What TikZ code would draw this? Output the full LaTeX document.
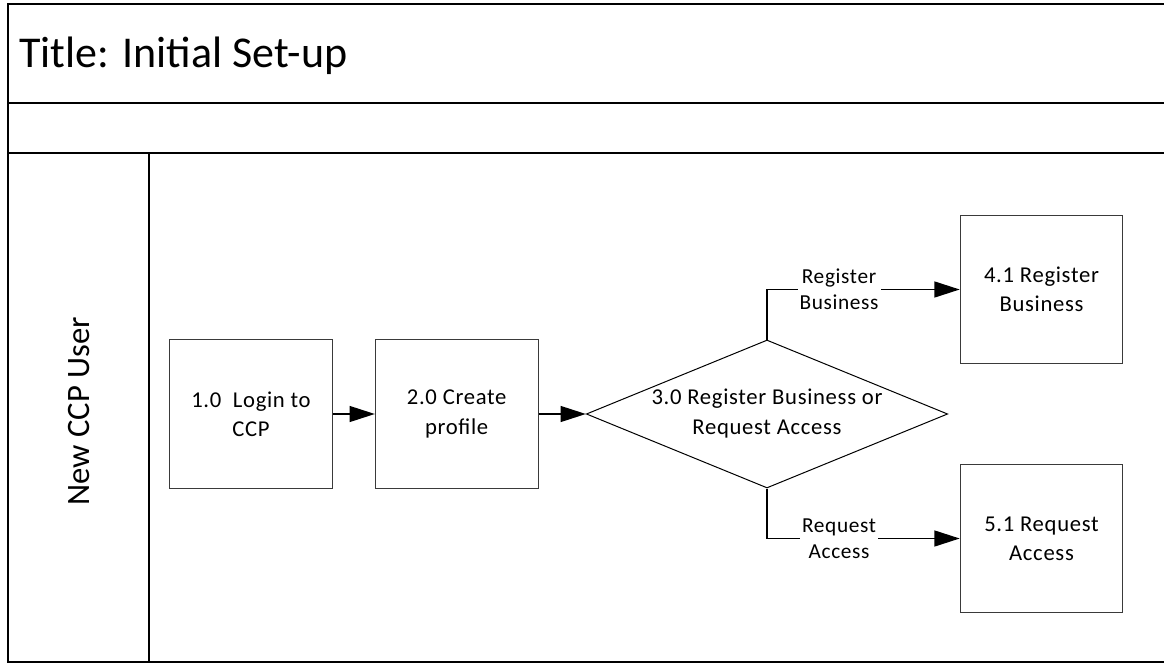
\documentclass[tikz,border=0pt]{standalone}
\usepackage{fontspec}
\setmainfont{Carlito}
\newfontfamily\visiofont[LetterSpace=3]{Carlito}
\definecolor{ccpLinea}{HTML}{000000}
\definecolor{ccpBorde}{HTML}{3A3A3A}
\usepackage{tikz}
\usetikzlibrary{
	arrows.meta,
	positioning,
	shapes.geometric
}
\tikzset{
	proceso/.style={
		draw=ccpBorde,
		line width=0.75pt,
		minimum width=122pt,
		minimum height=111.5pt,
		align=center,
		inner sep=2pt,
		font=\visiofont\fontsize{17}{22}\selectfont
	},
	decision/.style={
		diamond,
		draw=ccpLinea,
		line width=0.75pt,
		aspect=2.44,
		minimum width=271pt,
		minimum height=111pt,
		inner sep=0pt,
		align=center,
		font=\visiofont\fontsize{17}{22.5}\selectfont
	},
	etiqueta/.style={
		fill=white,
		align=center,
		inner sep=1.5pt,
		font=\visiofont\fontsize{16}{19.5}\selectfont
	},
	flecha/.style={
		-{Triangle[length=19pt,width=12pt]},
		line width=1.1pt,
		ccpLinea
	},
	marco/.style={
		line width=1.5pt,
		ccpLinea
	}
}

\begin{document}
\begin{tikzpicture}[x=0.75pt,y=-0.75pt]
		\useasboundingbox (0,0) rectangle (1164,663);
		% carril
		\draw[marco] (1164,4) -- (8,4) -- (8,662) -- (1164,662);
		\draw[marco] (8,103) -- (1164,103);
		\draw[marco] (8,153) -- (1164,153);
		\draw[marco] (149,153) -- (149,662);
		\node[anchor=base west, font=\fontsize{33}{40}\selectfont, inner sep=0pt] (titulo) at (19,68) {Title: Initial Set-up};
		\node[anchor=base, rotate=90, font=\fontsize{24.5}{29}\selectfont, inner sep=0pt] (carril) at (89,411.5) {New CCP User};
		% pasos
		\node[proceso] (login) at (251,414) {1.0\ \ Login to\\CCP};
		\node[proceso, right=31.5pt of login] (perfil) {2.0 Create\\profile};
		\node[decision] (eleccion) at (767,414) {3.0 Register Business or\\Request Access};
		\node[proceso] (registrar) at (1041.5,289.5) {4.1 Register\\Business};
		\node[proceso] (solicitar) at (1041.5,538.5) {5.1 Request\\Access};
		\draw[flecha] (login) -- (perfil);
		\draw[flecha] (perfil) -- (eleccion.west);
		\draw[flecha] (eleccion.north) |- node[etiqueta, pos=0.687] {Register\\Business} (registrar.west);
		\draw[flecha] (eleccion.south) |- node[etiqueta, pos=0.687] {Request\\Access} (solicitar.west);
	\end{tikzpicture}
\end{document}
